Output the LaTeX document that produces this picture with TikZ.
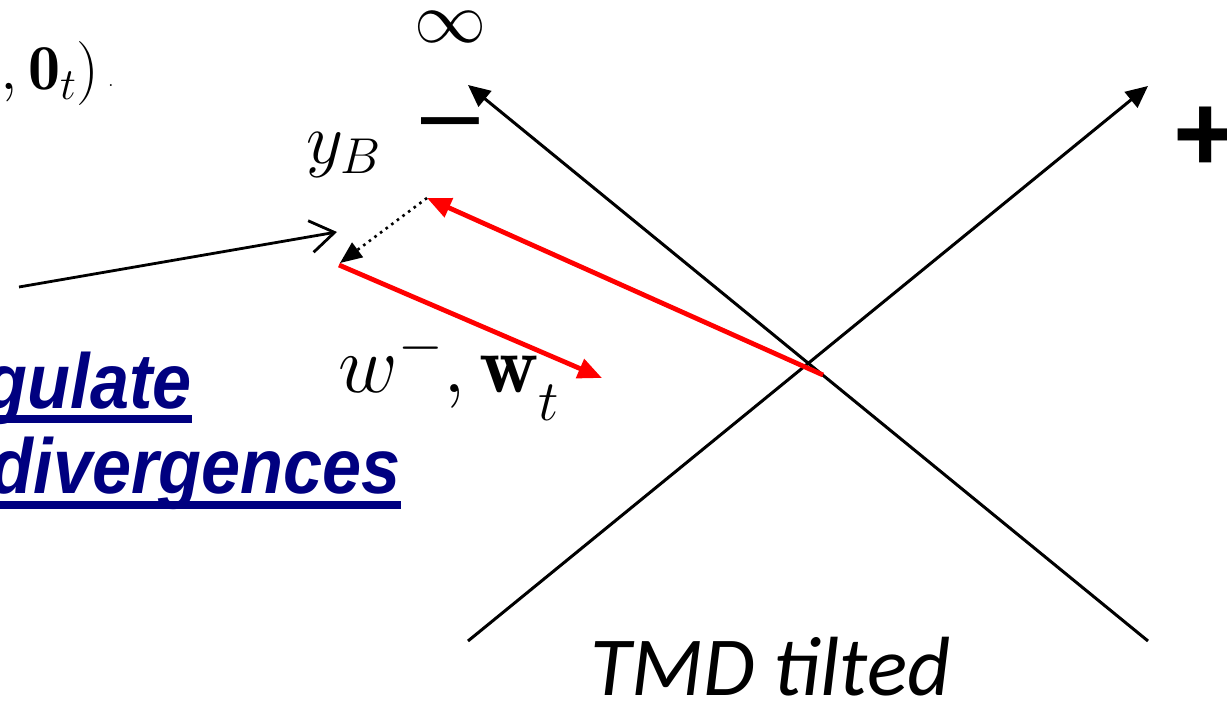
\RequirePackage{fix-cm}
\documentclass[tikz,border=0pt]{standalone}
\usepackage{fontspec}
\newfontfamily\arialfont{Liberation Sans}
\newfontfamily\calfont{Carlito}
\usetikzlibrary{arrows.meta}
\definecolor{navyblue}{RGB}{0,0,128}
\definecolor{pured}{RGB}{255,0,0}
\tikzset{
  axisarrow/.style={line width=1.5pt, -{Triangle[length=11pt,width=10pt]}},
  redarrow/.style={draw=pured, line width=2.4pt, -{Triangle[length=12pt,width=10pt]}},
  dotarrow/.style={line width=1.3pt, dash pattern=on 1.3pt off 2.2pt, -{Triangle[length=11pt,width=9pt]}},
  openarrow/.style={line width=1.4pt, -{Straight Barb[length=12pt,width=16pt]}},
  mathlabel/.style={inner sep=0pt, font=\fontsize{36}{43}\selectfont},
  bluetext/.style={inner sep=0pt, anchor=base east, text=navyblue, font=\fontsize{39}{47}\selectfont\arialfont\bfseries\itshape},
  signlabel/.style={inner sep=0pt, anchor=base},
}
\begin{document}
\begin{tikzpicture}[x=0.5pt,y=-0.5pt]
\useasboundingbox (0,0) rectangle (1227,706);
\clip (0,0) rectangle (1227,706);
% axes
\coordinate (Lstart) at (468,641);
\coordinate (Lend) at (1148,86);
\coordinate (Rstart) at (1148,641);
\coordinate (Rend) at (468,85);
\draw[axisarrow] (Lstart) -- (Lend);
\draw[axisarrow] (Rstart) -- (Rend);
% red arrows
\coordinate (O) at (823,375);
\coordinate (P) at (427,198);
\coordinate (Q) at (339,265);
\coordinate (W) at (602,378);
\coordinate (D) at (340,263);
\draw[redarrow] (O) -- (P);
\draw[redarrow] (Q) -- (W);
\draw[dotarrow] (P) -- (D);
% open arrow
\coordinate (S) at (19,287);
\coordinate (T) at (337,232);
\draw[openarrow] (S) -- (T);
% labels
\node[mathlabel, anchor=base] (inf) at (450,43) {$\infty$};
\node[signlabel, font=\fontsize{52}{60}\selectfont\arialfont] (minus) at (450,148) {–};
\node[signlabel, font=\fontsize{55}{64}\selectfont\arialfont\bfseries] (plus) at (1206,171) {+};
\node[mathlabel, anchor=base west] (yb) at (306,163) {$y_B$};
\node[mathlabel, anchor=base west, font=\fontsize{41}{49}\selectfont] (wlab) at (338,392) {$w^-,\mathbf{w}_{\lower 8pt\hbox{$\scriptstyle t$}}$};
\node[inner sep=0pt, anchor=base east, font=\fontsize{32}{39}\selectfont] (zero) at (100,90) {$,\mathbf{0}_t)$};
\node[inner sep=0pt, anchor=base west, font=\fontsize{9}{10}\selectfont] (dot) at (108,87) {.};
\node[bluetext] (gul) at (192,408) {\scalebox{0.9}[1]{gulate}};
\node[bluetext] (div) at (401,493) {\scalebox{0.9}[1]{divergences}};
\fill[navyblue] (-5,415) rectangle (192,423);
\fill[navyblue] (-5,501) rectangle (401,509);
\node[inner sep=0pt, anchor=base west, font=\fontsize{42}{50}\selectfont\calfont\itshape] (tmd) at (590,695) {TMD tilted};
\end{tikzpicture}
\end{document}
